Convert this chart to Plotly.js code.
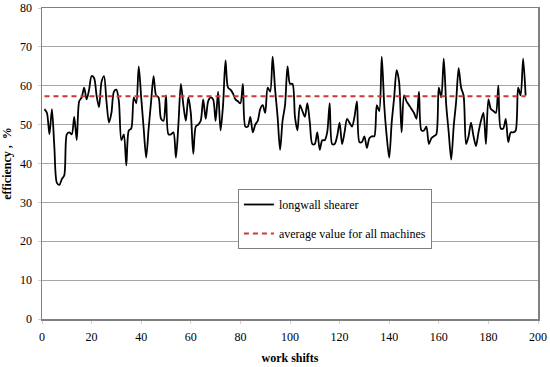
<!DOCTYPE html>
<html>
<head>
<meta charset="utf-8">
<script src="https://cdn.plot.ly/plotly-3.0.1.min.js"></script>
<style>html,body{margin:0;padding:0;background:#fff;}#chart{width:550px;height:367px;}</style>
</head>
<body>
<div id="chart"></div>
<script>
// efficiency values (%) per work shift 1..195
const efficiency = [
54, 53, 47.5, 54, 44, 35, 34.5, 36, 37, 47.5,
48, 47.5, 52, 46, 56, 57, 59.5, 56.5, 59, 62.5,
62, 57.5, 54.5, 61, 62.5, 56, 50.5, 53, 58.5, 59,
56, 46, 47.5, 39.5, 48.5, 49, 57, 55.5, 65, 57,
49, 41.5, 49, 56, 62.5, 57.5, 57, 51.5, 51, 57.5,
47.5, 47.5, 48, 41.5, 50, 60.5, 55, 51, 57, 53,
42.5, 49.5, 50, 51, 56.5, 51.5, 56, 57, 56.5, 51,
58.5, 48.5, 55, 66.5, 59.5, 59, 58, 56.5, 56, 55.5,
60.5, 49.5, 49.5, 52, 48, 50, 51, 54, 55, 53,
59.5, 58.5, 67.5, 59, 52, 43.5, 51, 55, 65, 60.5,
60.5, 52, 48.5, 55, 53.5, 52, 55.5, 50.5, 45, 45,
48, 43.5, 46, 46, 48, 55.5, 45, 45, 47, 50.5,
45, 48, 51.5, 50.5, 49.5, 52, 56, 45.5, 45.5, 47,
44, 46.5, 47, 47, 55, 53.5, 67.5, 55, 47, 41.5,
50.5, 57, 64, 61, 48, 57.5, 56, 55, 54, 53,
51.5, 58.5, 48.5, 48.5, 49.5, 45, 46.5, 47, 47.5, 59.5,
57, 67, 55, 48, 41, 49.5, 56, 64.5, 59.5, 57.5,
45, 47, 50.5, 47, 44.5, 48, 51, 53, 45, 56.5,
54, 53.5, 53, 60, 49, 49, 51.5, 45.5, 48, 48,
48.5, 59.5, 57.5, 67, 57.5
];
const shifts = efficiency.map((_, i) => i + 1);
const averageValue = 57.3;
const averageX = [1, 195];
const averageY = [averageValue, averageValue];
const seriesNames = ["longwall shearer", "average value for all machines"];
const xTicks = [0, 20, 40, 60, 80, 100, 120, 140, 160, 180, 200];
const yTicks = [0, 10, 20, 30, 40, 50, 60, 70, 80];

const serif = "'Liberation Serif', 'DejaVu Serif', serif";

const traces = [
  {
    x: shifts, y: efficiency, type: "scatter", mode: "lines",
    name: seriesNames[0], legendgroup: "a",
    line: {color: "#000000", width: 1.8, shape: "spline", smoothing: 0.8}
  },
  {
    x: averageX, y: averageY, type: "scatter", mode: "lines",
    name: seriesNames[1], legendgroup: "b",
    line: {color: "#c83a35", width: 1.8, dash: "5px,4px"}
  }
];

const layout = {
  width: 550, height: 367,
  margin: {l: 42, r: 12, t: 8, b: 48},
  paper_bgcolor: "#ffffff", plot_bgcolor: "#ffffff",
  font: {family: serif, size: 12, color: "#000"},
  showlegend: true,
  legend: {
    x: 0.395, y: 0.418, xanchor: "left", yanchor: "top",
    bgcolor: "#ffffff", bordercolor: "#808080", borderwidth: 1,
    font: {family: serif, size: 12, color: "#000"},
    traceorder: "grouped", tracegroupgap: 10
  },
  xaxis: {
    range: [0, 200], tickvals: xTicks, ticktext: xTicks.map(String),
    showgrid: false, zeroline: false,
    showline: true, linecolor: "#808080", linewidth: 1.5, mirror: true,
    ticks: "outside", ticklen: 3, tickcolor: "#d0d0d0",
    ticklabelstandoff: 3,
    tickfont: {family: serif, size: 12},
    title: {text: "<b>work shifts</b>", font: {family: serif, size: 12}, standoff: 10}
  },
  yaxis: {
    range: [0, 80], tickvals: yTicks, ticktext: yTicks.map(String),
    showgrid: true, gridcolor: "#a6a6a6", gridwidth: 1, zeroline: false,
    showline: true, linecolor: "#808080", linewidth: 1.5, mirror: true,
    ticks: "outside", ticklen: 3, tickcolor: "#d0d0d0",
    ticklabelstandoff: 3,
    tickfont: {family: serif, size: 12},
    title: {text: "<b>efficiency ,  %</b>", font: {family: serif, size: 12}, standoff: 8}
  }
};

Plotly.newPlot("chart", traces, layout, {staticPlot: true, displayModeBar: false});
</script>
</body>
</html>
